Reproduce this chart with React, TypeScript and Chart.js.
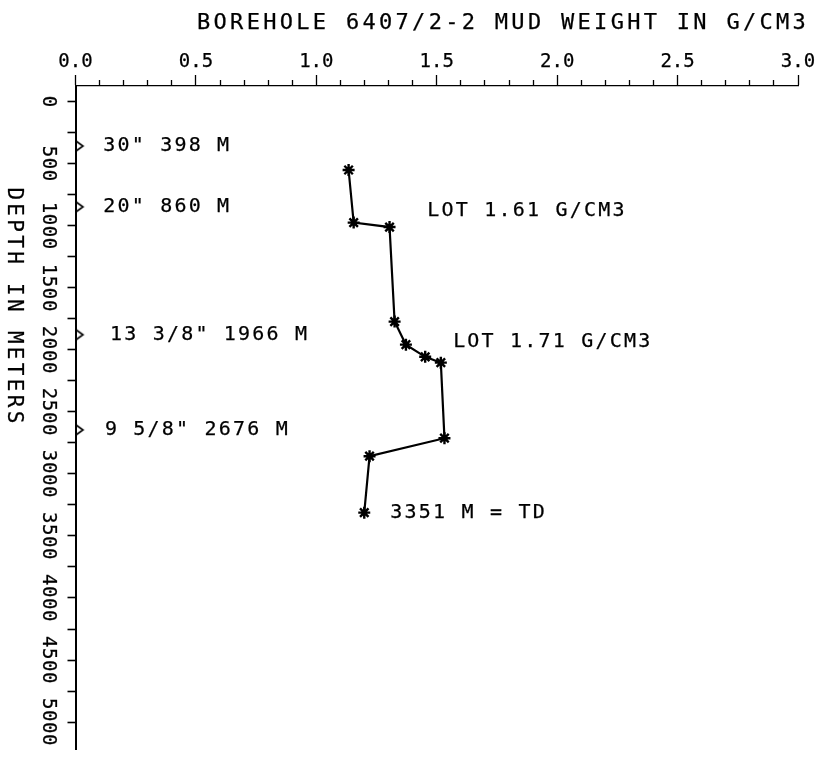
import React, { useEffect, useRef } from 'react';
import { Chart, registerables } from 'chart.js';

Chart.register(...registerables);

const TITLE = 'BOREHOLE 6407/2-2 MUD WEIGHT IN G/CM3';
const Y_TITLE = 'DEPTH IN METERS';

// mud weight (g/cm3) versus depth (m)
const mudWeight = [1.134, 1.155, 1.304, 1.325, 1.372, 1.452, 1.517, 1.532, 1.221, 1.199];
const mudDepth = [550, 974, 1010, 1772, 1958, 2056, 2103, 2712, 2857, 3312];

// casing shoes (markers on the depth axis)
const casingDepths = [357, 847, 1878, 2645];
const casingLabels = ['30" 398 M', '20" 860 M', '13 3/8" 1966 M', '9 5/8" 2676 M'];

const lotLabels = ['LOT 1.61 G/CM3', 'LOT 1.71 G/CM3'];
const tdLabel = '3351 M = TD';

const xMajorTicks = [0, 0.5, 1, 1.5, 2, 2.5, 3];
const xMinorTicks = [0, 0.1, 0.2, 0.3, 0.4, 0.5, 0.6, 0.7, 0.8, 0.9, 1, 1.1, 1.2, 1.3, 1.4, 1.5, 1.6, 1.7, 1.8, 1.9, 2, 2.1, 2.2, 2.3, 2.4, 2.5, 2.6, 2.7, 2.8, 2.9, 3];
const depthTicks = [0, 250, 500, 750, 1000, 1250, 1500, 1750, 2000, 2250, 2500, 2750, 3000, 3250, 3500, 3750, 4000, 4250, 4500, 4750, 5000];
const depthLabels = [0, 500, 1000, 1500, 2000, 2500, 3000, 3500, 4000, 4500, 5000];

const FONT = "'DejaVu Sans Mono', monospace";

// text anchors in data units (x = g/cm3, d = depth)
const notes = [
  { text: casingLabels[0], x: 0.115, d: casingDepths[0] },
  { text: casingLabels[1], x: 0.115, d: casingDepths[1] },
  { text: casingLabels[2], x: 0.143, d: casingDepths[2] },
  { text: casingLabels[3], x: 0.122, d: casingDepths[3] },
  { text: lotLabels[0], x: 1.461, d: 879 },
  { text: lotLabels[1], x: 1.568, d: 1931 },
  { text: tdLabel, x: 1.307, d: 3312 },
];

const textPlugin = {
  id: 'plotterText',
  afterDraw(chart: any) {
    const { ctx, scales, chartArea } = chart;
    const xs = scales.x;
    const ys = scales.y;
    const setFont = (size: number, spacing: number) => {
      ctx.font = `${size}px ${FONT}`;
      (ctx as any).letterSpacing = `${spacing}px`;
    };
    const draw = (t: string, x: number, y: number) => {
      ctx.fillText(t, x, y);
      ctx.strokeText(t, x, y);
    };
    ctx.save();
    ctx.fillStyle = '#000';
    ctx.strokeStyle = '#000';
    ctx.lineWidth = 0.25;
    ctx.lineJoin = 'round';

    // title
    setFont(22, 3.3);
    ctx.textAlign = 'left';
    ctx.textBaseline = 'middle';
    draw(TITLE, 197, 23);

    // depth tick labels, rotated clockwise
    setFont(19, 0.6);
    ctx.textAlign = 'center';
    depthLabels.forEach((v) => {
      const y = ys.getPixelForValue(v);
      ctx.save();
      ctx.translate(chartArea.left - 27.5, y);
      ctx.rotate(Math.PI / 2);
      draw(String(v), 0, 0);
      ctx.restore();
    });

    // depth axis title
    setFont(21, 3.3);
    ctx.save();
    ctx.translate(13, 307);
    ctx.rotate(Math.PI / 2);
    draw(Y_TITLE, 0, 0);
    ctx.restore();

    // annotations
    setFont(20, 2.2);
    ctx.textAlign = 'left';
    notes.forEach((n) => {
      draw(n.text, xs.getPixelForValue(n.x), ys.getPixelForValue(n.d));
    });
    ctx.restore();
  },
};

export default function App() {
  const ref = useRef<HTMLCanvasElement>(null);

  useEffect(() => {
    if (!ref.current) return;
    const tri = document.createElement('canvas');
    tri.width = 20;
    tri.height = 14;
    const c = tri.getContext('2d')!;
    c.strokeStyle = '#000';
    c.lineWidth = 1.6;
    c.lineJoin = 'miter';
    c.beginPath();
    c.moveTo(10.5, 2);
    c.lineTo(17.5, 7);
    c.lineTo(10.5, 12);
    c.stroke();

    const chart = new Chart(ref.current, {
      type: 'scatter',
      data: {
        datasets: [
          {
            label: 'Mud weight',
            data: mudWeight.map((w, i) => ({ x: w, y: mudDepth[i] })),
            showLine: true,
            borderColor: '#000',
            borderWidth: 2.2,
            pointStyle: 'star',
            pointRadius: 6,
            pointBorderWidth: 2.4,
            pointBorderColor: '#000',
            pointBackgroundColor: '#000',
            xAxisID: 'x',
            yAxisID: 'y',
          },
          {
            label: 'Casing',
            data: casingDepths.map((d) => ({ x: 0, y: d })),
            showLine: false,
            pointStyle: tri as any,
            pointRadius: 7,
            clip: false as any,
            xAxisID: 'x',
            yAxisID: 'y',
          },
        ],
      },
      options: {
        animation: false,
        responsive: false,
        maintainAspectRatio: false,
        devicePixelRatio: 1,
        layout: { padding: { left: 67.5, top: 48.2, right: 25, bottom: 0 } },
        plugins: {
          legend: { display: false },
          tooltip: { enabled: false },
          title: { display: false },
        },
        scales: {
          x: {
            type: 'linear',
            position: 'top',
            weight: 1,
            min: 0,
            max: 3,
            afterBuildTicks: (s: any) => {
              s.ticks = xMajorTicks.map((v) => ({ value: v }));
            },
            ticks: {
              color: '#000',
              textStrokeColor: '#000',
              textStrokeWidth: 0.25,
              padding: 2,
              maxRotation: 0,
              autoSkip: false,
              font: { family: FONT, size: 19 },
              callback: (v: any) => Number(v).toFixed(1),
            },
            grid: { drawOnChartArea: false, tickLength: 5, tickWidth: 1.3, tickColor: '#000' },
            border: { display: false },
          },
          xMinor: {
            type: 'linear',
            position: 'top',
            weight: 0,
            min: 0,
            max: 3,
            afterBuildTicks: (s: any) => {
              s.ticks = xMinorTicks.map((v) => ({ value: v }));
            },
            ticks: { display: false },
            grid: { drawOnChartArea: false, tickLength: 6, tickWidth: 1.3, tickColor: '#000' },
            border: { display: true, color: '#000', width: 1.2 },
          },
          y: {
            type: 'linear',
            position: 'left',
            reverse: true,
            min: -127,
            max: 5222,
            afterBuildTicks: (s: any) => {
              s.ticks = depthTicks.map((v) => ({ value: v }));
            },
            ticks: { display: false },
            grid: { drawOnChartArea: false, tickLength: 8, tickWidth: 1.6, tickColor: '#000' },
            border: { display: true, color: '#000', width: 2 },
          },
        },
      } as any,
      plugins: [textPlugin],
    });
    return () => chart.destroy();
  }, []);

  return (
    <div style={{ position: 'absolute', left: 0, top: 0, width: 823, height: 758, background: '#fff' }}>
      <canvas ref={ref} width={823} height={758} style={{ display: 'block' }} />
    </div>
  );
}
